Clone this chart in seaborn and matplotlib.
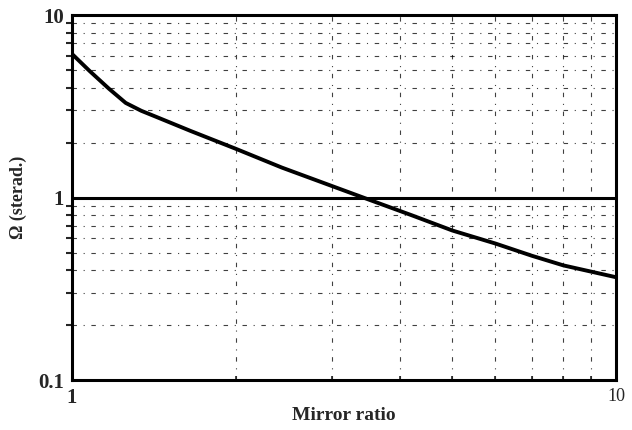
import matplotlib
matplotlib.use("Agg")
import matplotlib.pyplot as plt
import seaborn as sns
import pandas as pd
from matplotlib.ticker import FixedLocator, NullFormatter, LogLocator

mirror_ratio = [1.0, 1.077, 1.17, 1.255, 1.34, 1.44, 1.65, 2.0, 2.43, 3.02, 3.43, 4.21, 5.0, 6.0, 7.0, 8.0, 10.0]
omega = [6.12, 4.94, 3.94, 3.30, 2.99, 2.74, 2.32, 1.85, 1.46, 1.15, 1.0, 0.80, 0.66, 0.56, 0.48, 0.425, 0.366]
x_ticklabels = ["1", "10"]
y_ticklabels = ["0.1", "1", "10"]

sns.set_style("white")
plt.rcParams['font.family'] = ['Liberation Serif', 'DejaVu Serif']

df = pd.DataFrame({"Mirror ratio": mirror_ratio, "Omega": omega})

fig = plt.figure(figsize=(6.32, 4.30), dpi=100)
ax = fig.add_axes([0.114, 0.116, 0.861, 0.849])

sns.lineplot(data=df, x="Mirror ratio", y="Omega", ax=ax, color="black", linewidth=2.8)

ax.set_xscale("log")
ax.set_yscale("log")
ax.set_xlim(1, 10)
ax.set_ylim(0.1, 10)

ax.xaxis.set_major_locator(FixedLocator([1, 10]))
ax.yaxis.set_major_locator(FixedLocator([0.1, 1, 10]))
ax.xaxis.set_minor_locator(LogLocator(base=10, subs=range(2, 10)))
ax.yaxis.set_minor_locator(LogLocator(base=10, subs=range(2, 10)))
ax.xaxis.set_minor_formatter(NullFormatter())
ax.yaxis.set_minor_formatter(NullFormatter())
ax.set_xticklabels(x_ticklabels)
ax.set_yticklabels(y_ticklabels)

ax.grid(which="minor", axis="both", color="black", linewidth=0.8, linestyle=(0, (4, 6, 1, 6)), alpha=0.75)
ax.axhline(1, color="black", linewidth=2.2, zorder=1)

for s in ax.spines.values():
    s.set_color("black")
    s.set_linewidth(2.2)

ax.tick_params(axis="y", which="major", direction="out", length=5, width=1.5, labelsize=15, pad=1)
ax.tick_params(axis="y", which="minor", direction="out", length=4, width=1.5, left=True)
ax.tick_params(axis="x", which="major", direction="out", length=3, width=1.5, labelsize=15, pad=3)
ax.tick_params(axis="x", which="minor", direction="in", length=3, width=1.2, bottom=True)
for lab in ax.get_yticklabels():
    lab.set_fontweight("bold")
ax.get_xticklabels()[0].set_fontweight("bold")
ax.get_xticklabels()[1].set_fontsize(13)

ax.set_xlabel("Mirror ratio", fontsize=14, fontweight="bold", labelpad=-1)
ax.set_ylabel("Ω (sterad.)", fontsize=13, fontweight="bold", labelpad=8)

fig.savefig("out.png", dpi=100)
